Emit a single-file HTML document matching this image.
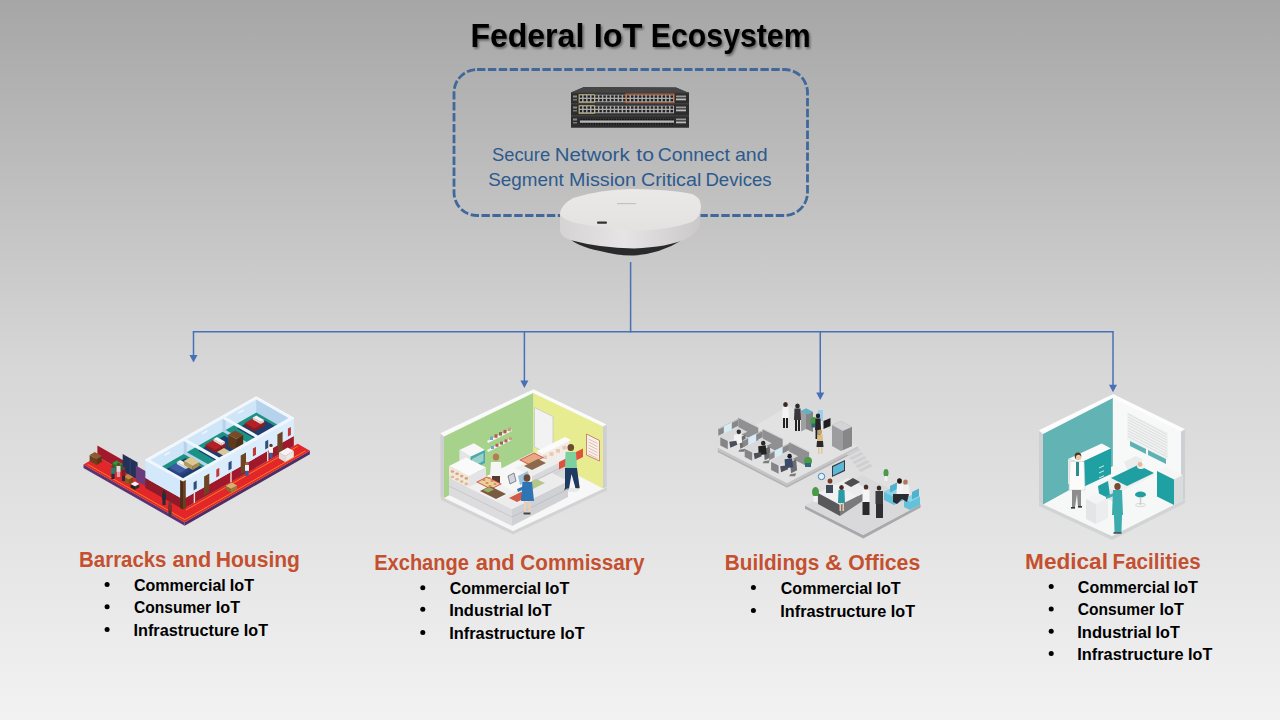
<!DOCTYPE html>
<html><head><meta charset="utf-8"><style>
html,body{margin:0;padding:0;width:1280px;height:720px;overflow:hidden;}
body{background:linear-gradient(to bottom,#a6a6a6 0%,#d6d6d6 50%,#f2f2f2 100%);font-family:"Liberation Sans",sans-serif;}
svg{position:absolute;left:0;top:0;}
</style></head><body>
<svg width="1280" height="720" viewBox="0 0 1280 720" font-family="Liberation Sans, sans-serif">
<defs>
<filter id="shadow" x="-10%" y="-30%" width="120%" height="160%"><feDropShadow dx="1.5" dy="1.8" stdDeviation="1.2" flood-color="#000" flood-opacity="0.45"/></filter>
</defs>
<rect x="454" y="69.5" width="353.5" height="146" rx="23" ry="23" fill="none" stroke="#41689a" stroke-width="2.8" stroke-dasharray="8.4 2.5"/>
<line x1="630.6" y1="262" x2="630.6" y2="332.5" stroke="#4670b8" stroke-width="1.5"/>
<line x1="192.75" y1="331.8" x2="1113.75" y2="331.8" stroke="#4670b8" stroke-width="1.5"/>
<line x1="193.5" y1="331.8" x2="193.5" y2="356.4" stroke="#4670b8" stroke-width="1.5"/><path d="M189.5,354.9 L197.5,354.9 L193.5,362.4 Z" fill="#4670b8"/><line x1="524.4" y1="331.8" x2="524.4" y2="382" stroke="#4670b8" stroke-width="1.5"/><path d="M520.4,380.5 L528.4,380.5 L524.4,388 Z" fill="#4670b8"/><line x1="820.25" y1="331.8" x2="820.25" y2="394" stroke="#4670b8" stroke-width="1.5"/><path d="M816.25,392.5 L824.25,392.5 L820.25,400 Z" fill="#4670b8"/><line x1="1113" y1="331.8" x2="1113" y2="386.2" stroke="#4670b8" stroke-width="1.5"/><path d="M1109,384.7 L1117,384.7 L1113,392.2 Z" fill="#4670b8"/>
<polygon points="571.0,92.5 584.0,87.0 676.0,87.5 689.0,93.0 689.0,127.5 571.0,127.5" fill="#3b3b3b" /><polygon points="571.0,92.5 584.0,87.0 676.0,87.5 689.0,93.0" fill="#454545" /><rect x="571.0" y="92.5" width="118.0" height="10.5" fill="#2d2d2d" /><rect x="571.0" y="92.5" width="118.0" height="0.8" fill="#4a4a4a" /><rect x="573.0" y="95.5" width="4.0" height="2.0" fill="#888" /><rect x="573.0" y="99.0" width="4.0" height="1.5" fill="#777" /><rect x="579.0" y="94.7" width="95.0" height="7.6" fill="#a9a9a9" /><rect x="579.6" y="95.4" width="2.5" height="2.3" fill="#202020" /><rect x="583.6" y="95.4" width="2.5" height="2.3" fill="#202020" /><rect x="587.5" y="95.4" width="2.5" height="2.3" fill="#202020" /><rect x="591.5" y="95.4" width="2.5" height="2.3" fill="#202020" /><rect x="595.4" y="95.4" width="2.5" height="2.3" fill="#202020" /><rect x="599.4" y="95.4" width="2.5" height="2.3" fill="#202020" /><rect x="603.3" y="95.4" width="2.5" height="2.3" fill="#202020" /><rect x="607.2" y="95.4" width="2.5" height="2.3" fill="#202020" /><rect x="611.2" y="95.4" width="2.5" height="2.3" fill="#202020" /><rect x="615.1" y="95.4" width="2.5" height="2.3" fill="#202020" /><rect x="619.1" y="95.4" width="2.5" height="2.3" fill="#202020" /><rect x="623.1" y="95.4" width="2.5" height="2.3" fill="#202020" /><rect x="627.0" y="95.4" width="2.5" height="2.3" fill="#202020" /><rect x="631.0" y="95.4" width="2.5" height="2.3" fill="#202020" /><rect x="634.9" y="95.4" width="2.5" height="2.3" fill="#202020" /><rect x="638.9" y="95.4" width="2.5" height="2.3" fill="#202020" /><rect x="642.8" y="95.4" width="2.5" height="2.3" fill="#202020" /><rect x="646.8" y="95.4" width="2.5" height="2.3" fill="#202020" /><rect x="650.7" y="95.4" width="2.5" height="2.3" fill="#202020" /><rect x="654.6" y="95.4" width="2.5" height="2.3" fill="#202020" /><rect x="658.6" y="95.4" width="2.5" height="2.3" fill="#202020" /><rect x="662.6" y="95.4" width="2.5" height="2.3" fill="#202020" /><rect x="666.5" y="95.4" width="2.5" height="2.3" fill="#202020" /><rect x="670.5" y="95.4" width="2.5" height="2.3" fill="#202020" /><rect x="579.6" y="99.0" width="2.5" height="2.3" fill="#202020" /><rect x="583.6" y="99.0" width="2.5" height="2.3" fill="#202020" /><rect x="587.5" y="99.0" width="2.5" height="2.3" fill="#202020" /><rect x="591.5" y="99.0" width="2.5" height="2.3" fill="#202020" /><rect x="595.4" y="99.0" width="2.5" height="2.3" fill="#202020" /><rect x="599.4" y="99.0" width="2.5" height="2.3" fill="#202020" /><rect x="603.3" y="99.0" width="2.5" height="2.3" fill="#202020" /><rect x="607.2" y="99.0" width="2.5" height="2.3" fill="#202020" /><rect x="611.2" y="99.0" width="2.5" height="2.3" fill="#202020" /><rect x="615.1" y="99.0" width="2.5" height="2.3" fill="#202020" /><rect x="619.1" y="99.0" width="2.5" height="2.3" fill="#202020" /><rect x="623.1" y="99.0" width="2.5" height="2.3" fill="#202020" /><rect x="627.0" y="99.0" width="2.5" height="2.3" fill="#202020" /><rect x="631.0" y="99.0" width="2.5" height="2.3" fill="#202020" /><rect x="634.9" y="99.0" width="2.5" height="2.3" fill="#202020" /><rect x="638.9" y="99.0" width="2.5" height="2.3" fill="#202020" /><rect x="642.8" y="99.0" width="2.5" height="2.3" fill="#202020" /><rect x="646.8" y="99.0" width="2.5" height="2.3" fill="#202020" /><rect x="650.7" y="99.0" width="2.5" height="2.3" fill="#202020" /><rect x="654.6" y="99.0" width="2.5" height="2.3" fill="#202020" /><rect x="658.6" y="99.0" width="2.5" height="2.3" fill="#202020" /><rect x="662.6" y="99.0" width="2.5" height="2.3" fill="#202020" /><rect x="666.5" y="99.0" width="2.5" height="2.3" fill="#202020" /><rect x="670.5" y="99.0" width="2.5" height="2.3" fill="#202020" /><rect x="579.0" y="94.7" width="15.5" height="7.6" fill="none" stroke="#c9c27a" stroke-width="0.7"/><rect x="626.0" y="94.1" width="48.0" height="8.8" fill="none" stroke="#c8683a" stroke-width="1.1"/><rect x="676.0" y="95.5" width="10.0" height="1.8" fill="#9a9a9a" /><rect x="676.0" y="98.5" width="10.0" height="1.8" fill="#bdbdbd" /><rect x="571.0" y="103.5" width="118.0" height="11.5" fill="#2d2d2d" /><rect x="571.0" y="103.5" width="118.0" height="0.8" fill="#4a4a4a" /><rect x="573.0" y="106.5" width="4.0" height="2.0" fill="#888" /><rect x="573.0" y="110.0" width="4.0" height="1.5" fill="#777" /><rect x="579.0" y="105.7" width="95.0" height="7.6" fill="#a9a9a9" /><rect x="579.6" y="106.4" width="2.5" height="2.3" fill="#202020" /><rect x="583.6" y="106.4" width="2.5" height="2.3" fill="#202020" /><rect x="587.5" y="106.4" width="2.5" height="2.3" fill="#202020" /><rect x="591.5" y="106.4" width="2.5" height="2.3" fill="#202020" /><rect x="595.4" y="106.4" width="2.5" height="2.3" fill="#202020" /><rect x="599.4" y="106.4" width="2.5" height="2.3" fill="#202020" /><rect x="603.3" y="106.4" width="2.5" height="2.3" fill="#202020" /><rect x="607.2" y="106.4" width="2.5" height="2.3" fill="#202020" /><rect x="611.2" y="106.4" width="2.5" height="2.3" fill="#202020" /><rect x="615.1" y="106.4" width="2.5" height="2.3" fill="#202020" /><rect x="619.1" y="106.4" width="2.5" height="2.3" fill="#202020" /><rect x="623.1" y="106.4" width="2.5" height="2.3" fill="#202020" /><rect x="627.0" y="106.4" width="2.5" height="2.3" fill="#202020" /><rect x="631.0" y="106.4" width="2.5" height="2.3" fill="#202020" /><rect x="634.9" y="106.4" width="2.5" height="2.3" fill="#202020" /><rect x="638.9" y="106.4" width="2.5" height="2.3" fill="#202020" /><rect x="642.8" y="106.4" width="2.5" height="2.3" fill="#202020" /><rect x="646.8" y="106.4" width="2.5" height="2.3" fill="#202020" /><rect x="650.7" y="106.4" width="2.5" height="2.3" fill="#202020" /><rect x="654.6" y="106.4" width="2.5" height="2.3" fill="#202020" /><rect x="658.6" y="106.4" width="2.5" height="2.3" fill="#202020" /><rect x="662.6" y="106.4" width="2.5" height="2.3" fill="#202020" /><rect x="666.5" y="106.4" width="2.5" height="2.3" fill="#202020" /><rect x="670.5" y="106.4" width="2.5" height="2.3" fill="#202020" /><rect x="579.6" y="110.0" width="2.5" height="2.3" fill="#202020" /><rect x="583.6" y="110.0" width="2.5" height="2.3" fill="#202020" /><rect x="587.5" y="110.0" width="2.5" height="2.3" fill="#202020" /><rect x="591.5" y="110.0" width="2.5" height="2.3" fill="#202020" /><rect x="595.4" y="110.0" width="2.5" height="2.3" fill="#202020" /><rect x="599.4" y="110.0" width="2.5" height="2.3" fill="#202020" /><rect x="603.3" y="110.0" width="2.5" height="2.3" fill="#202020" /><rect x="607.2" y="110.0" width="2.5" height="2.3" fill="#202020" /><rect x="611.2" y="110.0" width="2.5" height="2.3" fill="#202020" /><rect x="615.1" y="110.0" width="2.5" height="2.3" fill="#202020" /><rect x="619.1" y="110.0" width="2.5" height="2.3" fill="#202020" /><rect x="623.1" y="110.0" width="2.5" height="2.3" fill="#202020" /><rect x="627.0" y="110.0" width="2.5" height="2.3" fill="#202020" /><rect x="631.0" y="110.0" width="2.5" height="2.3" fill="#202020" /><rect x="634.9" y="110.0" width="2.5" height="2.3" fill="#202020" /><rect x="638.9" y="110.0" width="2.5" height="2.3" fill="#202020" /><rect x="642.8" y="110.0" width="2.5" height="2.3" fill="#202020" /><rect x="646.8" y="110.0" width="2.5" height="2.3" fill="#202020" /><rect x="650.7" y="110.0" width="2.5" height="2.3" fill="#202020" /><rect x="654.6" y="110.0" width="2.5" height="2.3" fill="#202020" /><rect x="658.6" y="110.0" width="2.5" height="2.3" fill="#202020" /><rect x="662.6" y="110.0" width="2.5" height="2.3" fill="#202020" /><rect x="666.5" y="110.0" width="2.5" height="2.3" fill="#202020" /><rect x="670.5" y="110.0" width="2.5" height="2.3" fill="#202020" /><rect x="579.0" y="105.7" width="15.5" height="7.6" fill="none" stroke="#c9c27a" stroke-width="0.7"/><rect x="676.0" y="106.5" width="10.0" height="1.8" fill="#9a9a9a" /><rect x="676.0" y="109.5" width="10.0" height="1.8" fill="#bdbdbd" /><rect x="571.0" y="115.5" width="118.0" height="12.0" fill="#2d2d2d" /><rect x="571.0" y="115.5" width="118.0" height="0.8" fill="#4a4a4a" /><rect x="573.0" y="118.5" width="4.0" height="2.0" fill="#888" /><rect x="573.0" y="122.0" width="4.0" height="1.5" fill="#777" /><rect x="580.0" y="118.0" width="94.0" height="7.0" fill="#3a3a3a" /><rect x="580.0" y="120.5" width="94.0" height="2.2" fill="#b8b8b8" /><rect x="580.5" y="118.5" width="1.6" height="1.6" fill="#151515" /><rect x="580.5" y="123.1" width="1.6" height="1.6" fill="#151515" /><rect x="583.1" y="118.5" width="1.6" height="1.6" fill="#151515" /><rect x="583.1" y="123.1" width="1.6" height="1.6" fill="#151515" /><rect x="585.7" y="118.5" width="1.6" height="1.6" fill="#151515" /><rect x="585.7" y="123.1" width="1.6" height="1.6" fill="#151515" /><rect x="588.3" y="118.5" width="1.6" height="1.6" fill="#151515" /><rect x="588.3" y="123.1" width="1.6" height="1.6" fill="#151515" /><rect x="590.9" y="118.5" width="1.6" height="1.6" fill="#151515" /><rect x="590.9" y="123.1" width="1.6" height="1.6" fill="#151515" /><rect x="593.5" y="118.5" width="1.6" height="1.6" fill="#151515" /><rect x="593.5" y="123.1" width="1.6" height="1.6" fill="#151515" /><rect x="596.1" y="118.5" width="1.6" height="1.6" fill="#151515" /><rect x="596.1" y="123.1" width="1.6" height="1.6" fill="#151515" /><rect x="598.7" y="118.5" width="1.6" height="1.6" fill="#151515" /><rect x="598.7" y="123.1" width="1.6" height="1.6" fill="#151515" /><rect x="601.3" y="118.5" width="1.6" height="1.6" fill="#151515" /><rect x="601.3" y="123.1" width="1.6" height="1.6" fill="#151515" /><rect x="603.9" y="118.5" width="1.6" height="1.6" fill="#151515" /><rect x="603.9" y="123.1" width="1.6" height="1.6" fill="#151515" /><rect x="606.5" y="118.5" width="1.6" height="1.6" fill="#151515" /><rect x="606.5" y="123.1" width="1.6" height="1.6" fill="#151515" /><rect x="609.1" y="118.5" width="1.6" height="1.6" fill="#151515" /><rect x="609.1" y="123.1" width="1.6" height="1.6" fill="#151515" /><rect x="611.7" y="118.5" width="1.6" height="1.6" fill="#151515" /><rect x="611.7" y="123.1" width="1.6" height="1.6" fill="#151515" /><rect x="614.3" y="118.5" width="1.6" height="1.6" fill="#151515" /><rect x="614.3" y="123.1" width="1.6" height="1.6" fill="#151515" /><rect x="616.9" y="118.5" width="1.6" height="1.6" fill="#151515" /><rect x="616.9" y="123.1" width="1.6" height="1.6" fill="#151515" /><rect x="619.5" y="118.5" width="1.6" height="1.6" fill="#151515" /><rect x="619.5" y="123.1" width="1.6" height="1.6" fill="#151515" /><rect x="622.1" y="118.5" width="1.6" height="1.6" fill="#151515" /><rect x="622.1" y="123.1" width="1.6" height="1.6" fill="#151515" /><rect x="624.7" y="118.5" width="1.6" height="1.6" fill="#151515" /><rect x="624.7" y="123.1" width="1.6" height="1.6" fill="#151515" /><rect x="627.3" y="118.5" width="1.6" height="1.6" fill="#151515" /><rect x="627.3" y="123.1" width="1.6" height="1.6" fill="#151515" /><rect x="629.9" y="118.5" width="1.6" height="1.6" fill="#151515" /><rect x="629.9" y="123.1" width="1.6" height="1.6" fill="#151515" /><rect x="632.5" y="118.5" width="1.6" height="1.6" fill="#151515" /><rect x="632.5" y="123.1" width="1.6" height="1.6" fill="#151515" /><rect x="635.1" y="118.5" width="1.6" height="1.6" fill="#151515" /><rect x="635.1" y="123.1" width="1.6" height="1.6" fill="#151515" /><rect x="637.7" y="118.5" width="1.6" height="1.6" fill="#151515" /><rect x="637.7" y="123.1" width="1.6" height="1.6" fill="#151515" /><rect x="640.3" y="118.5" width="1.6" height="1.6" fill="#151515" /><rect x="640.3" y="123.1" width="1.6" height="1.6" fill="#151515" /><rect x="642.9" y="118.5" width="1.6" height="1.6" fill="#151515" /><rect x="642.9" y="123.1" width="1.6" height="1.6" fill="#151515" /><rect x="645.5" y="118.5" width="1.6" height="1.6" fill="#151515" /><rect x="645.5" y="123.1" width="1.6" height="1.6" fill="#151515" /><rect x="648.1" y="118.5" width="1.6" height="1.6" fill="#151515" /><rect x="648.1" y="123.1" width="1.6" height="1.6" fill="#151515" /><rect x="650.7" y="118.5" width="1.6" height="1.6" fill="#151515" /><rect x="650.7" y="123.1" width="1.6" height="1.6" fill="#151515" /><rect x="653.3" y="118.5" width="1.6" height="1.6" fill="#151515" /><rect x="653.3" y="123.1" width="1.6" height="1.6" fill="#151515" /><rect x="655.9" y="118.5" width="1.6" height="1.6" fill="#151515" /><rect x="655.9" y="123.1" width="1.6" height="1.6" fill="#151515" /><rect x="658.5" y="118.5" width="1.6" height="1.6" fill="#151515" /><rect x="658.5" y="123.1" width="1.6" height="1.6" fill="#151515" /><rect x="661.1" y="118.5" width="1.6" height="1.6" fill="#151515" /><rect x="661.1" y="123.1" width="1.6" height="1.6" fill="#151515" /><rect x="663.7" y="118.5" width="1.6" height="1.6" fill="#151515" /><rect x="663.7" y="123.1" width="1.6" height="1.6" fill="#151515" /><rect x="666.3" y="118.5" width="1.6" height="1.6" fill="#151515" /><rect x="666.3" y="123.1" width="1.6" height="1.6" fill="#151515" /><rect x="668.9" y="118.5" width="1.6" height="1.6" fill="#151515" /><rect x="668.9" y="123.1" width="1.6" height="1.6" fill="#151515" /><rect x="671.5" y="118.5" width="1.6" height="1.6" fill="#151515" /><rect x="671.5" y="123.1" width="1.6" height="1.6" fill="#151515" /><rect x="676.0" y="118.5" width="10.0" height="1.8" fill="#9a9a9a" /><rect x="676.0" y="121.5" width="10.0" height="1.8" fill="#bdbdbd" /><defs><linearGradient id="apside" x1="0" y1="0" x2="1" y2="0"><stop offset="0" stop-color="#d5d3d3"/><stop offset="0.45" stop-color="#e6e4e4"/><stop offset="1" stop-color="#cac8c8"/></linearGradient><linearGradient id="aptop" x1="0" y1="0" x2="0" y2="1"><stop offset="0" stop-color="#ebe8e8"/><stop offset="1" stop-color="#e4e1e1"/></linearGradient></defs><path d="M567,236 Q575,246 600,251 Q620,256 634,255.5 Q660,254 684,239 Z" fill="#2a2a2c"/><path d="M560,213 L560,231 Q561,237 570,240 Q600,248 634,248.5 Q668,247 686,239 Q699,233 700,224 L701,207 Z" fill="url(#apside)"/><path d="M560,213 Q561,205 573,198 Q600,189.5 632,189 Q672,189.5 692,194 Q700.5,197 701,206 Q701,217 692,222 Q668,230 640,230.5 Q600,229 572,222 Q560,218 560,213 Z" fill="url(#aptop)"/><rect x="597.0" y="221.5" width="10.0" height="2.2" fill="#333" rx="1"/><rect x="617.0" y="203.0" width="19.0" height="1.2" fill="#c4c1c1" /><polygon points="441.0,496.5 513.0,531.0 607.0,487.0 607.0,490.5 513.0,534.5 441.0,500.0" fill="#d3d3d5" /><polygon points="441.0,496.5 513.0,531.0 607.0,487.0 533.3,452.0" fill="#f7f7f7" /><polygon points="440.4,434.5 444.0,436.0 444.0,498.0 440.4,496.5" fill="#cfcfd3" /><polygon points="603.0,426.0 606.7,424.4 606.7,487.0 603.0,488.5" fill="#cfcfd3" /><polygon points="444.0,436.0 533.3,389.3 533.3,452.0 444.0,498.0" fill="#a6d28b" /><polygon points="533.3,389.3 603.0,426.0 603.0,488.5 533.3,452.0" fill="#e6ec8f" /><polygon points="440.4,433.3 533.3,389.3 606.7,424.4 603.0,426.5 533.3,393.0 444.0,436.5" fill="#fbfbfb" /><polygon points="534.5,407.5 553.0,416.5 553.0,456.0 534.5,447.0" fill="#f2f2f2" stroke="#c9c9c9" stroke-width="0.8"/><polygon points="586.5,434.0 599.5,440.5 599.5,461.0 586.5,455.0" fill="#f6f0ea" stroke="#c25b4a" stroke-width="0.7"/><line x1="588.5" y1="439.0" x2="597.5" y2="443.5" stroke="#d09080" stroke-width="0.5"/><line x1="588.5" y1="442.0" x2="597.5" y2="446.5" stroke="#d09080" stroke-width="0.5"/><line x1="588.5" y1="445.0" x2="597.5" y2="449.5" stroke="#d09080" stroke-width="0.5"/><line x1="588.5" y1="448.0" x2="597.5" y2="452.5" stroke="#d09080" stroke-width="0.5"/><line x1="588.5" y1="451.0" x2="597.5" y2="455.5" stroke="#d09080" stroke-width="0.5"/><line x1="588.5" y1="454.0" x2="597.5" y2="458.5" stroke="#d09080" stroke-width="0.5"/><polygon points="487.0,450.0 511.0,438.0 512.0,440.0 488.0,452.0" fill="#f4f4f4" /><polygon points="487.0,441.0 511.0,429.0 512.0,431.0 488.0,443.0" fill="#f4f4f4" /><rect x="490.0" y="436.5" width="3.0" height="3.5" fill="#7aa6c8" /><rect x="491.0" y="446.0" width="3.0" height="3.0" fill="#7aa6c8" /><rect x="494.5" y="434.3" width="3.0" height="3.5" fill="#c0584a" /><rect x="495.5" y="443.8" width="3.0" height="3.0" fill="#c0584a" /><rect x="499.0" y="432.1" width="3.0" height="3.5" fill="#8a6a5a" /><rect x="500.0" y="441.6" width="3.0" height="3.0" fill="#8a6a5a" /><rect x="503.5" y="429.9" width="3.0" height="3.5" fill="#c0584a" /><rect x="504.5" y="439.4" width="3.0" height="3.0" fill="#c0584a" /><rect x="508.0" y="427.7" width="3.0" height="3.5" fill="#c8a080" /><rect x="509.0" y="437.2" width="3.0" height="3.0" fill="#c8a080" /><polygon points="532.0,476.0 574.0,455.0 574.0,474.0 532.0,495.0" fill="#d9d9dc" /><line x1="532" y1="482" x2="574" y2="461" stroke="#bcbcc0" stroke-width="0.8"/><line x1="532" y1="485" x2="574" y2="464" stroke="#c6c6ca" stroke-width="0.6"/><polygon points="515.0,468.0 557.0,447.0 574.0,455.0 532.0,476.0" fill="#eeeeef" /><polygon points="541.0,453.0 569.0,439.0 569.0,450.0 541.0,464.0" fill="#f4ece4" /><rect x="543.0" y="455.5" width="4.0" height="3.5" fill="#e6c8b4" /><rect x="549.5" y="452.3" width="4.0" height="3.5" fill="#e6c8b4" /><rect x="556.0" y="449.1" width="4.0" height="3.5" fill="#e6c8b4" /><rect x="562.5" y="445.9" width="4.0" height="3.5" fill="#e6c8b4" /><polygon points="537.0,451.0 565.0,437.0 571.0,440.0 543.0,454.0" fill="#fbfbfb" /><polygon points="537.0,451.0 543.0,454.0 543.0,465.0 537.0,462.0" fill="#f0f0f0" /><polygon points="519.0,460.0 534.0,452.5 544.0,457.5 529.0,465.0" fill="#cf5a45" /><polygon points="521.0,460.0 534.0,453.5 542.0,457.5 529.0,464.0" fill="#e8a882" /><polygon points="524.0,466.0 538.0,459.0 546.0,463.0 532.0,470.0" fill="#8a6a4a" /><ellipse cx="496" cy="457" rx="3.2" ry="3.6" fill="#b77a52"/><polygon points="491.0,462.0 501.0,462.0 502.0,476.0 490.0,476.0" fill="#f6f6f6" /><rect x="492.0" y="476.0" width="8.0" height="7.0" fill="#5a3a30" /><polygon points="459.4,450.0 473.9,443.3 485.0,450.0 470.6,456.7" fill="#f7f7f7" /><polygon points="459.4,450.0 470.6,456.7 470.6,470.0 459.4,463.0" fill="#e5e5e7" /><polygon points="470.6,456.7 485.0,450.0 485.0,463.0 470.6,470.0" fill="#4aa8b0" /><polygon points="472.0,459.0 483.5,453.0 483.5,461.0 472.0,467.0" fill="#9ad0c8" /><polygon points="449.0,478.0 512.0,509.0 512.0,526.0 449.0,495.0" fill="#dcdcdf" /><line x1="449" y1="486" x2="512" y2="517" stroke="#c3c3c7" stroke-width="0.8"/><polygon points="449.0,478.0 468.0,468.5 531.0,499.5 512.0,509.0" fill="#f1f1f2" /><polygon points="512.0,509.0 568.0,481.0 568.0,497.0 512.0,526.0" fill="#d0d1d4" /><line x1="512" y1="517" x2="568" y2="489" stroke="#babbc0" stroke-width="0.8"/><polygon points="512.0,509.0 568.0,481.0 552.0,473.0 496.0,501.0" fill="#ececed" /><polygon points="449.0,466.0 466.0,457.5 486.0,467.5 469.0,476.0" fill="#fafafa" /><polygon points="449.0,466.0 469.0,476.0 469.0,487.0 449.0,477.0" fill="#f1e6dc" /><polygon points="469.0,476.0 486.0,467.5 486.0,478.5 469.0,487.0" fill="#e4e4e6" /><ellipse cx="452.5" cy="471.5" rx="1.8" ry="1.3" fill="#d9a37a"/><ellipse cx="452.5" cy="477.0" rx="1.8" ry="1.3" fill="#e0b890"/><ellipse cx="457.1" cy="473.8" rx="1.8" ry="1.3" fill="#d9a37a"/><ellipse cx="457.1" cy="479.3" rx="1.8" ry="1.3" fill="#e0b890"/><ellipse cx="461.7" cy="476.1" rx="1.8" ry="1.3" fill="#d9a37a"/><ellipse cx="461.7" cy="481.6" rx="1.8" ry="1.3" fill="#e0b890"/><ellipse cx="466.3" cy="478.4" rx="1.8" ry="1.3" fill="#d9a37a"/><ellipse cx="466.3" cy="483.9" rx="1.8" ry="1.3" fill="#e0b890"/><polygon points="476.0,482.0 487.0,476.5 502.0,484.0 491.0,489.5" fill="#d25a48" /><polygon points="478.0,482.0 487.0,477.5 500.0,484.0 491.0,488.5" fill="#ead0a0" /><polygon points="480.0,491.0 490.0,486.0 506.0,494.0 496.0,499.0" fill="#7a5a40" /><ellipse cx="484" cy="480" rx="1.6" ry="1" fill="#d98a50"/><ellipse cx="489" cy="478" rx="1.6" ry="1" fill="#d98a50"/><ellipse cx="487" cy="483" rx="1.6" ry="1" fill="#d98a50"/><ellipse cx="492" cy="481" rx="1.6" ry="1" fill="#d98a50"/><ellipse cx="495" cy="484" rx="1.6" ry="1" fill="#d98a50"/><ellipse cx="490" cy="486" rx="1.6" ry="1" fill="#d98a50"/><polygon points="483.0,490.0 489.0,487.0 494.0,489.5 488.0,492.5" fill="#9ab060" /><polygon points="509.0,498.0 521.0,492.0 529.0,496.0 517.0,502.0" fill="#d25a48" /><polygon points="522.0,486.0 536.0,479.0 545.0,483.0 531.0,490.0" fill="#b5c68a" /><polygon points="508.0,476.0 514.0,473.0 516.0,481.0 510.0,484.0" fill="#cfd6e0" stroke="#444" stroke-width="0.6"/><polygon points="518.0,476.0 528.0,471.0 530.0,480.0 520.0,485.0" fill="#9cc3dd" /><ellipse cx="527" cy="478" rx="3.4" ry="3.8" fill="#6b4a35"/><polygon points="522.5,482.0 532.0,482.0 534.0,501.0 521.0,501.0" fill="#2f74b4" /><polygon points="517.0,489.0 524.0,486.0 524.0,489.0 518.0,492.0" fill="#2f74b4" /><rect x="524.0" y="501.0" width="2.2" height="12.0" fill="#ecd0b8" /><rect x="528.5" y="501.0" width="2.2" height="12.0" fill="#ecd0b8" /><ellipse cx="527.5" cy="514.5" rx="5" ry="1.8" fill="#d8d8d8"/><rect x="523.5" y="512.5" width="7.0" height="2.0" fill="#444" /><polygon points="559.0,462.0 566.0,458.5 566.0,466.0 559.0,469.5" fill="#e0503a" /><polygon points="575.0,452.5 583.0,448.5 583.0,457.0 575.0,461.0" fill="#e0503a" /><ellipse cx="570.8" cy="447.5" rx="3.3" ry="3.6" fill="#6b4a35"/><polygon points="565.5,452.0 576.0,452.0 577.0,468.0 565.0,468.0" fill="#7fd0a0" /><polygon points="565.0,468.0 577.0,468.0 579.5,487.0 575.5,488.0 571.5,474.0 569.0,489.0 565.0,489.0" fill="#1f3a60" /><rect x="564.5" y="488.5" width="4.0" height="1.8" fill="#333" /><rect x="575.5" y="486.5" width="4.0" height="1.8" fill="#333" /><ellipse cx="572" cy="490" rx="7" ry="2" fill="#e2e2e2" opacity="0.7"/><polygon points="1039.0,502.4 1111.9,536.0 1185.1,499.2 1185.1,503.0 1111.9,540.0 1039.0,506.0" fill="#d2d3d5" /><polygon points="1039.0,502.4 1111.9,536.0 1185.1,499.2 1112.9,466.0" fill="#f6f7f7" /><polygon points="1039.0,431.5 1043.0,433.5 1043.0,504.5 1039.0,502.4" fill="#cdd0d3" /><polygon points="1181.0,431.0 1185.1,429.2 1185.1,499.2 1181.0,501.0" fill="#cdd0d3" /><polygon points="1043.0,433.5 1112.9,394.0 1112.9,466.0 1043.0,504.5" fill="#62b3b4" /><polygon points="1112.9,394.0 1181.0,431.0 1181.0,501.0 1112.9,466.0" fill="#f7f8f8" /><polygon points="1039.0,430.2 1112.9,394.0 1185.1,429.2 1181.0,431.5 1112.9,398.0 1043.0,434.0" fill="#fdfdfd" /><polygon points="1127.0,412.0 1168.0,433.0 1168.0,460.0 1127.0,440.0" fill="#f0f1f1" /><line x1="1128" y1="414.0" x2="1167" y2="434.5" stroke="#c9cccd" stroke-width="0.5"/><line x1="1128" y1="416.8" x2="1167" y2="437.3" stroke="#c9cccd" stroke-width="0.5"/><line x1="1128" y1="419.6" x2="1167" y2="440.1" stroke="#c9cccd" stroke-width="0.5"/><line x1="1128" y1="422.4" x2="1167" y2="442.9" stroke="#c9cccd" stroke-width="0.5"/><line x1="1128" y1="425.2" x2="1167" y2="445.7" stroke="#c9cccd" stroke-width="0.5"/><line x1="1128" y1="428.0" x2="1167" y2="448.5" stroke="#c9cccd" stroke-width="0.5"/><line x1="1128" y1="430.8" x2="1167" y2="451.3" stroke="#c9cccd" stroke-width="0.5"/><line x1="1128" y1="433.6" x2="1167" y2="454.1" stroke="#c9cccd" stroke-width="0.5"/><line x1="1128" y1="436.4" x2="1167" y2="456.9" stroke="#c9cccd" stroke-width="0.5"/><polygon points="1130.0,441.0 1146.0,449.0 1146.0,454.0 1130.0,446.0" fill="#5fb2b3" /><polygon points="1148.0,450.0 1166.0,459.0 1166.0,464.0 1148.0,455.0" fill="#5fb2b3" /><polygon points="1068.0,459.0 1101.7,443.5 1111.0,448.5 1081.0,462.5" fill="#fafafa" /><polygon points="1068.0,459.0 1081.0,462.5 1081.0,490.0 1068.0,484.0" fill="#e6e8e9" /><polygon points="1081.0,462.5 1111.0,448.5 1111.0,474.0 1081.0,488.0" fill="#1fa0a2" /><line x1="1099" y1="468.0" x2="1104" y2="465.7" stroke="#e8f4f4" stroke-width="0.9"/><line x1="1099" y1="473.0" x2="1104" y2="470.7" stroke="#e8f4f4" stroke-width="0.9"/><line x1="1099" y1="478.0" x2="1104" y2="475.7" stroke="#e8f4f4" stroke-width="0.9"/><line x1="1099" y1="483.0" x2="1104" y2="480.7" stroke="#e8f4f4" stroke-width="0.9"/><polygon points="1157.0,471.0 1166.0,467.0 1183.0,475.0 1174.0,479.5" fill="#f5f5f5" /><polygon points="1157.0,471.0 1174.0,479.5 1174.0,505.0 1157.0,496.5" fill="#1fa0a2" /><polygon points="1174.0,479.5 1183.0,475.0 1183.0,500.5 1174.0,505.0" fill="#d9dcdd" /><polygon points="1124.0,462.0 1136.0,456.0 1142.0,459.0 1142.0,470.0 1130.0,476.0" fill="#e9ebec" /><polygon points="1100.0,484.0 1137.0,466.0 1155.0,475.0 1118.0,493.0" fill="#eef0f0" /><polygon points="1100.0,484.0 1118.0,493.0 1118.0,504.0 1100.0,495.0" fill="#dfe1e2" /><polygon points="1111.0,478.0 1138.0,465.0 1154.0,473.0 1127.0,486.0" fill="#1f9fa1" /><polygon points="1098.0,486.0 1108.0,481.0 1110.0,496.0 1100.0,501.0" fill="#1f9fa1" /><ellipse cx="1141" cy="466" rx="4" ry="3" fill="#f1f1f1"/><ellipse cx="1140" cy="464.5" rx="2.4" ry="2.4" fill="#e8b896"/><ellipse cx="1140.5" cy="494.5" rx="5.5" ry="3" fill="#1f9fa1"/><rect x="1139.8" y="497.0" width="1.4" height="8.0" fill="#c9cbcc" /><ellipse cx="1140.5" cy="505" rx="5" ry="1.6" fill="none" stroke="#c9cbcc" stroke-width="0.7"/><polygon points="1086.0,499.0 1098.0,493.0 1108.0,498.0 1096.0,504.0" fill="#f4f4f4" /><polygon points="1086.0,499.0 1096.0,504.0 1096.0,524.0 1086.0,519.0" fill="#e4e5e6" /><polygon points="1096.0,504.0 1108.0,498.0 1108.0,518.0 1096.0,524.0" fill="#ededee" /><ellipse cx="1078" cy="456" rx="3.3" ry="3.6" fill="#4a3426"/><ellipse cx="1078.5" cy="457.5" rx="2.6" ry="2.8" fill="#f0c7a5"/><polygon points="1070.0,461.5 1084.0,461.5 1085.0,490.0 1069.0,490.0" fill="#fbfbfb" stroke="#cfd2d4" stroke-width="0.6"/><polygon points="1076.0,462.0 1079.0,462.0 1079.0,476.0 1076.0,476.0" fill="#2a8f90" /><polygon points="1072.0,490.0 1081.0,490.0 1081.0,507.0 1078.0,507.0 1077.0,494.0 1075.0,507.0 1072.0,507.0" fill="#8c8c8c" /><rect x="1071.0" y="507.0" width="4.0" height="1.6" fill="#333" /><rect x="1078.0" y="506.0" width="4.0" height="1.6" fill="#333" /><ellipse cx="1117.5" cy="486.5" rx="3.2" ry="3.5" fill="#7a4a30"/><polygon points="1113.0,490.0 1122.0,490.0 1123.0,515.0 1112.0,515.0" fill="#3aacae" /><polygon points="1106.0,496.0 1114.0,493.0 1114.0,496.0 1106.0,499.0" fill="#3aacae" /><polygon points="1114.0,515.0 1122.0,515.0 1121.5,532.0 1114.5,532.0" fill="#3aacae" /><rect x="1113.5" y="532.0" width="8.0" height="1.8" fill="#555" /><polygon points="184.7,522.2 309.9,450.8 309.9,454.3 184.7,525.7" fill="#4f2c63" /><polygon points="184.7,522.2 83.5,464.5 83.5,468.0 184.7,525.7" fill="#5b3170" /><polygon points="184.7,522.2 309.9,450.8 297.7,443.8 186.4,507.3 97.4,456.5 83.5,464.5" fill="#e3262a" /><line x1="184.7" y1="519.7" x2="305.6" y2="450.8" stroke="#f7931e" stroke-width="0.8"/><line x1="184.7" y1="519.7" x2="87.4" y2="464.2" stroke="#f7931e" stroke-width="0.8"/><line x1="186.0" y1="510.0" x2="297.7" y2="446.3" stroke="#f7931e" stroke-width="0.8"/><polygon points="148.9,485.9 97.4,456.5 97.4,445.5 148.9,474.9" fill="#a3192c" /><polygon points="137.6,479.4 122.7,470.9 122.7,453.9 137.6,462.4" fill="#233258" /><line x1="130.2" y1="475.2" x2="130.2" y2="458.2" stroke="#3a4a7a" stroke-width="0.8"/><polygon points="147.2,486.9 135.8,480.4 135.8,465.4 147.2,471.9" fill="#6b3b7b" /><polygon points="96.6,465.0 89.6,461.0 89.6,455.0 96.6,459.0" fill="#6a4020" /><polygon points="96.6,465.0 101.8,462.0 101.8,456.0 96.6,459.0" fill="#5a3518" /><polygon points="96.6,459.0 101.8,456.0 94.8,452.0 89.6,455.0" fill="#8a5a30" /><polygon points="150.7,472.9 183.8,453.9 183.8,440.9 150.7,459.9" fill="#cfe5f8" /><polygon points="216.1,472.4 183.8,453.9 183.8,440.9 216.1,459.4" fill="#b6d3ee" /><polygon points="183.0,491.3 216.1,472.4 183.8,453.9 150.7,472.9" fill="#1a9284" /><polygon points="184.7,484.3 208.3,470.9 185.6,457.9 162.0,471.4" fill="#1f3c6e" /><polygon points="164.6,455.9 169.9,452.9 169.9,451.4 164.6,454.4" fill="#f4f9ff" /><polygon points="186.9,452.2 222.7,431.8 222.7,418.8 186.9,439.2" fill="#cfe5f8" /><polygon points="255.0,450.2 222.7,431.8 222.7,418.8 255.0,437.2" fill="#b6d3ee" /><polygon points="219.2,470.6 255.0,450.2 222.7,431.8 186.9,452.2" fill="#1a9284" /><polygon points="220.9,463.7 247.1,448.7 224.4,435.8 198.2,450.7" fill="#1f3c6e" /><polygon points="202.2,434.5 207.4,431.5 207.4,430.0 202.2,433.0" fill="#f4f9ff" /><polygon points="225.7,430.1 256.3,412.6 256.3,399.6 225.7,417.1" fill="#cfe5f8" /><polygon points="288.6,431.1 256.3,412.6 256.3,399.6 288.6,418.1" fill="#b6d3ee" /><polygon points="258.0,448.5 288.6,431.1 256.3,412.6 225.7,430.1" fill="#1a9284" /><polygon points="259.8,441.5 280.7,429.6 258.0,416.6 237.1,428.6" fill="#1f3c6e" /><polygon points="238.4,413.8 243.6,410.9 243.6,409.4 238.4,412.3" fill="#f4f9ff" /><polygon points="179.5,476.3 169.0,470.4 169.0,467.4 179.5,473.3" fill="#2a4580" /><polygon points="179.5,476.3 189.9,470.4 189.9,467.4 179.5,473.3" fill="#2a4580" /><polygon points="179.5,473.3 189.9,467.4 179.5,461.4 169.0,467.4" fill="#3c5ea6" /><polygon points="185.6,468.9 176.8,463.9 176.8,461.9 185.6,466.9" fill="#dcdcdc" /><polygon points="185.6,468.9 189.1,466.9 189.1,464.9 185.6,466.9" fill="#dcdcdc" /><polygon points="185.6,466.9 189.1,464.9 180.3,459.9 176.8,461.9" fill="#f2f2f2" /><polygon points="192.6,469.9 183.8,464.9 183.8,460.9 192.6,465.9" fill="#b89a5a" /><polygon points="192.6,469.9 199.5,465.9 199.5,461.9 192.6,465.9" fill="#a88a4a" /><polygon points="192.6,465.9 199.5,461.9 190.8,456.9 183.8,460.9" fill="#dcc88e" /><polygon points="223.1,455.4 230.1,451.5 223.1,447.5 216.1,451.5" fill="#d8c79a" /><polygon points="215.2,453.0 205.6,447.5 205.6,444.5 215.2,450.0" fill="#8f1a1e" /><polygon points="215.2,453.0 225.7,447.0 225.7,444.0 215.2,450.0" fill="#8f1a1e" /><polygon points="215.2,450.0 225.7,444.0 216.1,438.5 205.6,444.5" fill="#b52025" /><polygon points="221.4,445.5 213.5,441.0 213.5,439.0 221.4,443.5" fill="#dcdcdc" /><polygon points="221.4,445.5 224.8,443.5 224.8,441.5 221.4,443.5" fill="#dcdcdc" /><polygon points="221.4,443.5 224.8,441.5 217.0,437.0 213.5,439.0" fill="#f3f3f3" /><polygon points="236.2,451.0 228.3,446.5 228.3,434.5 236.2,439.0" fill="#5e3a1c" /><polygon points="236.2,451.0 243.2,447.0 243.2,435.0 236.2,439.0" fill="#4e2e14" /><polygon points="236.2,439.0 243.2,435.0 235.3,430.5 228.3,434.5" fill="#7a4a28" /><polygon points="254.5,431.5 244.9,426.1 244.9,423.1 254.5,428.5" fill="#8f1a1e" /><polygon points="254.5,431.5 265.0,425.6 265.0,422.6 254.5,428.5" fill="#8f1a1e" /><polygon points="254.5,428.5 265.0,422.6 255.4,417.1 244.9,423.1" fill="#b52025" /><polygon points="260.6,424.1 252.8,419.6 252.8,417.6 260.6,422.1" fill="#dcdcdc" /><polygon points="260.6,424.1 264.1,422.1 264.1,420.1 260.6,422.1" fill="#dcdcdc" /><polygon points="260.6,422.1 264.1,420.1 256.3,415.6 252.8,417.6" fill="#f3f3f3" /><polygon points="183.0,509.3 145.4,487.9 145.4,477.9 183.0,499.3" fill="#8f1a2a" /><polygon points="183.0,499.3 145.4,477.9 145.4,459.9 183.0,481.3" fill="#d3e8fb" /><polygon points="183.0,509.3 293.8,446.1 293.8,436.1 183.0,499.3" fill="#a0182b" /><polygon points="183.0,499.3 293.8,436.1 293.8,418.1 183.0,481.3" fill="#dbedfc" /><path d="M183.0,481.3 L293.8,418.1 L256.3,396.7 L145.4,459.9 Z M183.0,478.3 L216.1,459.4 L183.8,440.9 L150.7,459.9 Z M219.2,457.6 L255.0,437.2 L222.7,418.8 L186.9,439.2 Z M258.0,435.5 L288.6,418.1 L256.3,399.6 L225.7,417.1 Z" fill="#eef6fe" fill-rule="evenodd"/><line x1="183.0" y1="481.3" x2="293.8" y2="418.1" stroke="#f7fbff" stroke-width="1.0"/><line x1="183.0" y1="481.3" x2="145.4" y2="459.9" stroke="#f7fbff" stroke-width="1.0"/><line x1="145.4" y1="459.9" x2="256.3" y2="396.7" stroke="#f7fbff" stroke-width="1.0"/><line x1="293.8" y1="418.1" x2="256.3" y2="396.7" stroke="#f7fbff" stroke-width="1.0"/><polygon points="204.1,495.4 209.3,492.4 209.3,473.4 204.1,476.4" fill="#6e4424" /><polygon points="240.7,474.5 246.0,471.5 246.0,452.5 240.7,455.5" fill="#6e4424" /><polygon points="277.4,453.6 282.6,450.6 282.6,431.6 277.4,434.6" fill="#6e4424" /><polygon points="193.6,490.4 196.7,488.6 196.7,480.6 193.6,482.4" fill="#2d4f7a" /><polygon points="216.3,477.4 219.3,475.7 219.3,467.7 216.3,469.4" fill="#c03a3a" /><polygon points="228.5,470.5 231.6,468.7 231.6,460.7 228.5,462.5" fill="#2d4f7a" /><polygon points="252.9,456.5 256.0,454.8 256.0,446.8 252.9,448.5" fill="#c03a3a" /><polygon points="265.2,449.6 268.2,447.8 268.2,439.8 265.2,441.6" fill="#2d4f7a" /><polygon points="287.9,436.6 290.9,434.9 290.9,426.9 287.9,428.6" fill="#c03a3a" /><polygon points="193.7,503.4 195.1,502.6 195.1,492.6 193.7,493.4" fill="#f0e2c8" /><polygon points="230.3,482.5 231.7,481.7 231.7,471.7 230.3,472.5" fill="#f0e2c8" /><polygon points="267.0,461.6 268.4,460.8 268.4,450.8 267.0,451.6" fill="#f0e2c8" /><polygon points="183.0,509.6 185.8,507.9 185.8,479.9 183.0,481.6" fill="#6b3f1f" /><polygon points="183.0,509.6 180.1,507.9 180.1,479.9 183.0,481.6" fill="#4f2e15" /><polygon points="118.4,472.4 112.3,468.9 112.3,462.9 118.4,466.4" fill="#1f7a2a" /><polygon points="118.4,472.4 122.7,469.9 122.7,463.9 118.4,466.4" fill="#1f6a2a" /><polygon points="118.4,466.4 122.7,463.9 116.6,460.5 112.3,462.9" fill="#2a9a3a" /><polygon points="128.8,484.4 123.6,481.4 123.6,476.4 128.8,479.4" fill="#8a5a20" /><polygon points="128.8,484.4 133.2,481.9 133.2,476.9 128.8,479.4" fill="#7a4a18" /><polygon points="128.8,479.4 133.2,476.9 128.0,473.9 123.6,476.4" fill="#c08a40" /><rect x="111.4" y="473.1" width="3.2" height="5.9" fill="#2a2a3a" /><rect x="111.0" y="467.9" width="4.0" height="5.9" fill="#2a7a7a" /><circle cx="113.0" cy="466.4" r="1.7" fill="#6a4030"/><rect x="116.9" y="471.1" width="3.2" height="5.9" fill="#d0a0b0" /><rect x="116.5" y="465.9" width="4.0" height="5.9" fill="#f0d0d8" /><circle cx="118.5" cy="464.4" r="1.7" fill="#6a4030"/><rect x="121.9" y="475.1" width="3.2" height="5.9" fill="#2a2a3a" /><rect x="121.5" y="469.9" width="4.0" height="5.9" fill="#8a1a2a" /><circle cx="123.5" cy="468.4" r="1.7" fill="#6a4030"/><polygon points="135.0,489.8 130.6,487.4 130.6,483.9 135.0,486.3" fill="#222" /><polygon points="135.0,489.8 139.3,487.4 139.3,483.9 135.0,486.3" fill="#333" /><polygon points="135.0,486.3 139.3,483.9 135.0,481.4 130.6,483.9" fill="#f4f4f4" /><rect x="162.4" y="499.1" width="3.2" height="5.9" fill="#2a2a3a" /><rect x="162.0" y="493.9" width="4.0" height="5.9" fill="#2a2a3a" /><circle cx="164.0" cy="492.4" r="1.7" fill="#3a2a20"/><rect x="168.4" y="510.1" width="3.2" height="5.9" fill="#3a3a4a" /><rect x="168.0" y="504.9" width="4.0" height="5.9" fill="#8a2a2a" /><circle cx="170.0" cy="503.4" r="1.7" fill="#6a4030"/><rect x="245.4" y="470.1" width="3.2" height="5.9" fill="#3a5aa0" /><rect x="245.0" y="464.9" width="4.0" height="5.9" fill="#f0f0f0" /><circle cx="247.0" cy="463.4" r="1.7" fill="#a0603a"/><polygon points="231.0,492.8 225.7,489.8 225.7,485.8 231.0,488.8" fill="#8a6a30" /><polygon points="231.0,492.8 237.1,489.4 237.1,485.4 231.0,488.8" fill="#9a7a40" /><polygon points="231.0,488.8 237.1,485.4 231.8,482.4 225.7,485.8" fill="#d8b070" /><rect x="269.4" y="452.1" width="3.2" height="5.9" fill="#3a5a9a" /><rect x="269.0" y="446.9" width="4.0" height="5.9" fill="#f4f4f4" /><circle cx="271.0" cy="445.4" r="1.7" fill="#5a3a20"/><polygon points="285.1,462.0 279.0,458.5 279.0,452.5 285.1,456.0" fill="#dedede" /><polygon points="285.1,462.0 293.8,457.0 293.8,451.0 285.1,456.0" fill="#e8e8e8" /><polygon points="285.1,456.0 293.8,451.0 287.7,447.5 279.0,452.5" fill="#f4f4f4" /><polygon points="717.8,447.5 787.0,483.0 858.0,446.0 858.0,450.5 787.0,487.5 717.8,452.0" fill="#c4c4c6" /><polygon points="717.8,450.5 787.0,486.0 858.0,449.0 858.0,450.5 787.0,487.5 717.8,452.0" fill="#b2b2b4" /><polygon points="717.8,447.5 787.0,483.0 858.0,446.0 789.0,406.0" fill="#e2e2e3" /><polygon points="718.3,428.8 738.3,418.8 738.3,425.8 718.3,435.8" fill="#88888b" /><polygon points="718.3,428.8 738.3,418.8 739.3,419.2 719.3,429.2" fill="#c9c9cb" /><polygon points="738.3,417.8 758.3,427.8 758.3,442.8 738.3,432.8" fill="#909093" /><polygon points="738.3,417.8 758.3,427.8 759.3,427.2 739.3,417.2" fill="#d0d0d2" /><polygon points="723.8,426.2 731.8,422.2 731.8,431.2 723.8,435.2" fill="#d6ebf4" /><polygon points="719.3,435.8 737.8,426.8 747.3,431.8 728.8,440.8" fill="#d9d9db" /><polygon points="720.3,437.2 727.8,440.9 727.8,449.2 720.3,445.6" fill="#858588" /><polygon points="739.3,437.8 745.3,434.8 746.3,445.8 740.3,448.8" fill="#6d6d70" /><polygon points="733.8,434.8 741.3,433.8 742.3,442.8 734.3,443.8" fill="#f4f4f4" /><polygon points="729.3,441.8 736.3,440.8 737.3,444.8 730.3,447.8" fill="#4a4f5a" /><ellipse cx="738.8" cy="431.8" rx="2.2" ry="2.4" fill="#333"/><polygon points="739.3,449.8 745.3,448.8 744.3,451.8 738.3,451.8" fill="#7a7a7d" /><polygon points="742.7,440.2 762.7,430.2 762.7,437.2 742.7,447.2" fill="#88888b" /><polygon points="742.7,440.2 762.7,430.2 763.7,430.7 743.7,440.7" fill="#c9c9cb" /><polygon points="762.7,429.2 782.7,439.2 782.7,454.2 762.7,444.2" fill="#909093" /><polygon points="762.7,429.2 782.7,439.2 783.7,438.7 763.7,428.7" fill="#d0d0d2" /><polygon points="748.2,437.7 756.2,433.7 756.2,442.7 748.2,446.7" fill="#d6ebf4" /><polygon points="743.7,447.2 762.2,438.2 771.7,443.2 753.2,452.2" fill="#d9d9db" /><polygon points="744.7,448.7 752.2,452.4 752.2,460.7 744.7,457.0" fill="#858588" /><polygon points="763.7,449.2 769.7,446.2 770.7,457.2 764.7,460.2" fill="#6d6d70" /><polygon points="758.2,446.2 765.7,445.2 766.7,454.2 758.7,455.2" fill="#222" /><polygon points="753.7,453.2 760.7,452.2 761.7,456.2 754.7,459.2" fill="#4a4f5a" /><ellipse cx="763.2" cy="443.2" rx="2.2" ry="2.4" fill="#2a2a2a"/><polygon points="763.7,461.2 769.7,460.2 768.7,463.2 762.7,463.2" fill="#7a7a7d" /><polygon points="769.1,453.2 789.1,443.2 789.1,450.2 769.1,460.2" fill="#88888b" /><polygon points="769.1,453.2 789.1,443.2 790.1,443.7 770.1,453.7" fill="#c9c9cb" /><polygon points="789.1,442.2 809.1,452.2 809.1,467.2 789.1,457.2" fill="#909093" /><polygon points="789.1,442.2 809.1,452.2 810.1,451.7 790.1,441.7" fill="#d0d0d2" /><polygon points="774.6,450.7 782.6,446.7 782.6,455.7 774.6,459.7" fill="#d6ebf4" /><polygon points="770.1,460.2 788.6,451.2 798.1,456.2 779.6,465.2" fill="#d9d9db" /><polygon points="771.1,461.7 778.6,465.4 778.6,473.7 771.1,470.0" fill="#858588" /><polygon points="790.1,462.2 796.1,459.2 797.1,470.2 791.1,473.2" fill="#6d6d70" /><polygon points="784.6,459.2 792.1,458.2 793.1,467.2 785.1,468.2" fill="#3a4a6a" /><polygon points="780.1,466.2 787.1,465.2 788.1,469.2 781.1,472.2" fill="#4a4f5a" /><ellipse cx="789.6" cy="456.2" rx="2.2" ry="2.4" fill="#1a1a1a"/><polygon points="790.1,474.2 796.1,473.2 795.1,476.2 789.1,476.2" fill="#7a7a7d" /><ellipse cx="808" cy="461" rx="4" ry="4" fill="#4a9a4a"/><rect x="805.0" y="463.0" width="6.0" height="4.0" fill="#2a6a7a" /><polygon points="801.0,411.0 806.0,408.5 806.0,429.0 801.0,431.5" fill="#a0a0a3" /><polygon points="806.0,408.5 813.0,412.0 813.0,432.0 806.0,429.0" fill="#858588" /><polygon points="801.0,411.0 806.0,408.5 813.0,412.0 808.0,414.5" fill="#5ab5c8" /><ellipse cx="785.5" cy="404.5" rx="2.3" ry="2.5" fill="#3a2a20"/><polygon points="782.5,407.0 788.5,407.0 789.0,418.0 782.0,418.0" fill="#f2f2f2" /><rect x="783.0" y="418.0" width="2.0" height="10.0" fill="#222" /><rect x="786.0" y="418.0" width="2.0" height="10.0" fill="#222" /><ellipse cx="797.5" cy="406" rx="2.3" ry="2.5" fill="#2a2a2a"/><polygon points="794.5,408.5 800.5,408.5 801.0,420.0 794.0,420.0" fill="#38383c" /><rect x="795.0" y="420.0" width="2.0" height="11.0" fill="#222" /><rect x="798.0" y="420.0" width="2.0" height="11.0" fill="#222" /><ellipse cx="813.5" cy="421" rx="3.5" ry="4" fill="#4a9a4a"/><rect x="811.5" y="423.5" width="4.0" height="4.0" fill="#2a6a7a" /><rect x="818.0" y="410.0" width="5.0" height="11.0" fill="#9ad0ee" /><rect x="818.5" y="421.0" width="4.0" height="6.0" fill="#e8e8ea" /><ellipse cx="818" cy="416" rx="2.2" ry="2.4" fill="#222"/><polygon points="815.5,418.5 820.5,418.5 821.0,430.0 815.0,430.0" fill="#262629" /><rect x="815.5" y="430.0" width="2.0" height="9.0" fill="#222" /><rect x="818.5" y="430.0" width="2.0" height="9.0" fill="#222" /><ellipse cx="820" cy="432" rx="2.2" ry="2.4" fill="#c8a060"/><polygon points="817.5,434.5 822.5,434.5 823.0,441.0 817.0,441.0" fill="#d9bd80" /><polygon points="817.0,441.0 823.0,441.0 823.5,447.0 816.5,447.0" fill="#2a2a2e" /><rect x="818.0" y="447.0" width="1.5" height="7.0" fill="#e0c8a0" /><rect x="821.0" y="447.0" width="1.5" height="7.0" fill="#e0c8a0" /><polygon points="823.5,421.0 830.5,418.0 830.5,426.0 823.5,429.0" fill="#1f1f22" /><polygon points="832.0,425.0 841.0,421.0 852.0,427.0 852.0,446.0 841.0,451.0 832.0,446.0" fill="#9d9da0" /><polygon points="832.0,425.0 841.0,421.0 852.0,427.0 843.0,431.0" fill="#d4d4d6" /><polygon points="843.0,431.0 852.0,427.0 852.0,446.0 843.0,450.0" fill="#87878a" /><polygon points="846.0,454.0 858.0,448.0 861.0,450.0 849.0,456.0" fill="#d0d0d2" /><polygon points="849.0,458.0 861.0,452.0 864.0,454.0 852.0,460.0" fill="#d0d0d2" /><polygon points="852.0,462.0 864.0,456.0 867.0,458.0 855.0,464.0" fill="#d0d0d2" /><polygon points="855.0,466.0 867.0,460.0 870.0,462.0 858.0,468.0" fill="#d0d0d2" /><polygon points="858.0,470.0 870.0,464.0 873.0,466.0 861.0,472.0" fill="#d0d0d2" /><polygon points="805.0,505.6 863.3,535.0 920.6,504.4 920.6,507.5 863.3,538.5 805.0,508.8" fill="#a9a9ab" /><polygon points="805.0,505.6 863.3,535.0 920.6,504.4 862.3,475.0" fill="#d9d9db" /><polygon points="818.0,493.0 836.0,484.0 858.0,496.0 840.0,505.0" fill="#f1f1f1" /><polygon points="818.0,493.0 840.0,505.0 840.0,516.0 818.0,504.0" fill="#59595c" /><polygon points="840.0,505.0 864.0,493.0 864.0,500.0 840.0,516.0" fill="#7a7a7d" /><polygon points="836.0,484.0 848.0,478.0 864.0,487.0 864.0,493.0 858.0,496.0" fill="#ececec" /><polygon points="844.0,483.0 853.0,478.0 860.0,482.0 851.0,487.0" fill="#4d4d50" /><rect x="826.0" y="485.0" width="7.0" height="8.0" fill="#3a4a5a" /><ellipse cx="830" cy="481" rx="2.4" ry="2.6" fill="#7a3a2a"/><polygon points="832.0,466.0 845.0,460.0 845.0,471.0 832.0,477.0" fill="#3a3a3e" /><polygon points="833.0,467.0 844.0,461.5 844.0,470.0 833.0,475.5" fill="#5ab7d8" /><circle cx="821.5" cy="476.5" r="3.2" fill="#e8f0f6" stroke="#3a86c0" stroke-width="1"/><ellipse cx="815.5" cy="492" rx="3.5" ry="5" fill="#4a9a4a"/><rect x="813.5" y="496.0" width="4.0" height="6.0" fill="#f0f0f0" /><ellipse cx="841.5" cy="487.5" rx="2.3" ry="2.5" fill="#4a2a20"/><polygon points="838.5,490.0 844.5,490.0 845.0,503.0 838.0,503.0" fill="#2a9aa6" /><rect x="839.5" y="503.0" width="1.5" height="8.0" fill="#e8c8a8" /><rect x="842.5" y="503.0" width="1.5" height="8.0" fill="#e8c8a8" /><ellipse cx="866" cy="487" rx="2.3" ry="2.5" fill="#4a3020"/><rect x="862.5" y="490.0" width="7.0" height="12.0" fill="#f5f5f5" /><rect x="862.5" y="502.0" width="7.0" height="13.0" fill="#2a2a2c" /><ellipse cx="879" cy="488" rx="2.3" ry="2.5" fill="#3a2a20"/><rect x="875.5" y="491.0" width="7.5" height="13.0" fill="#3b3b3e" /><rect x="876.0" y="504.0" width="7.0" height="14.0" fill="#2f2f32" /><polygon points="884.0,492.0 896.0,486.0 906.0,491.0 906.0,499.0 894.0,505.0 884.0,500.0" fill="#63c2da" /><polygon points="884.0,492.0 896.0,486.0 906.0,491.0 894.0,497.0" fill="#8ed3e6" /><polygon points="890.0,486.0 897.0,482.5 897.0,489.0 890.0,492.5" fill="#4fb2cf" /><polygon points="904.0,499.0 914.0,494.0 920.0,497.0 920.0,505.0 910.0,510.0 904.0,507.0" fill="#63c2da" /><polygon points="904.0,499.0 914.0,494.0 920.0,497.0 910.0,502.0" fill="#8ed3e6" /><polygon points="912.0,492.0 919.0,488.5 919.0,496.0 912.0,499.5" fill="#4fb2cf" /><ellipse cx="899.5" cy="481" rx="2.4" ry="2.8" fill="#2a1a15"/><polygon points="897.0,484.0 903.0,484.0 903.5,494.0 896.5,494.0" fill="#f4f4f4" /><ellipse cx="905.5" cy="482" rx="2.3" ry="2.6" fill="#b07a5a"/><polygon points="903.0,485.0 909.0,485.0 909.5,495.0 903.0,495.0" fill="#f0f0f0" /><polygon points="893.0,494.0 909.0,494.0 907.0,502.0 902.0,499.0 897.0,504.0 893.0,502.0" fill="#2c2c30" /><ellipse cx="886" cy="473" rx="2.5" ry="4" fill="#4a9a4a"/><rect x="884.5" y="476.0" width="3.0" height="5.0" fill="#f0f0f0" />
<text transform="translate(470.40,47.00) scale(0.9745,1)" font-size="32.86" font-weight="bold" fill="#000" filter="url(#shadow)">Federal</text><text transform="translate(593.66,47.00) scale(0.9922,1)" font-size="32.86" font-weight="bold" fill="#000" filter="url(#shadow)">IoT</text><text transform="translate(650.81,47.00) scale(0.9212,1)" font-size="32.86" font-weight="bold" fill="#000" filter="url(#shadow)">Ecosystem</text><text transform="translate(491.93,160.60) scale(0.9894,1)" font-size="18.57" font-weight="normal" fill="#2d5a8d">Secure</text><text transform="translate(554.65,160.60) scale(1.1016,1)" font-size="18.57" font-weight="normal" fill="#2d5a8d">Network</text><text transform="translate(636.25,160.60) scale(1.1435,1)" font-size="18.57" font-weight="normal" fill="#2d5a8d">to</text><text transform="translate(657.84,160.60) scale(1.0422,1)" font-size="18.57" font-weight="normal" fill="#2d5a8d">Connect</text><text transform="translate(734.99,160.60) scale(1.0524,1)" font-size="18.57" font-weight="normal" fill="#2d5a8d">and</text><text transform="translate(488.16,185.60) scale(1.0161,1)" font-size="18.57" font-weight="normal" fill="#2d5a8d">Segment</text><text transform="translate(569.05,185.60) scale(1.0652,1)" font-size="18.57" font-weight="normal" fill="#2d5a8d">Mission</text><text transform="translate(640.97,185.60) scale(1.0631,1)" font-size="18.57" font-weight="normal" fill="#2d5a8d">Critical</text><text transform="translate(705.45,185.60) scale(1.0012,1)" font-size="18.57" font-weight="normal" fill="#2d5a8d">Devices</text><text transform="translate(79.12,566.70) scale(0.9220,1)" font-size="22.14" font-weight="bold" fill="#c4502f">Barracks</text><text transform="translate(172.56,566.70) scale(0.9813,1)" font-size="22.14" font-weight="bold" fill="#c4502f">and</text><text transform="translate(215.68,566.70) scale(0.9527,1)" font-size="22.14" font-weight="bold" fill="#c4502f">Housing</text><text transform="translate(134.00,590.60) scale(0.9682,1)" font-size="16.57" font-weight="bold" fill="#000">Commercial</text><text transform="translate(229.79,590.60) scale(0.9752,1)" font-size="16.57" font-weight="bold" fill="#000">IoT</text><text transform="translate(134.01,612.90) scale(0.9409,1)" font-size="16.57" font-weight="bold" fill="#000">Consumer</text><text transform="translate(215.79,612.90) scale(0.9752,1)" font-size="16.57" font-weight="bold" fill="#000">IoT</text><text transform="translate(133.48,635.60) scale(0.9822,1)" font-size="16.57" font-weight="bold" fill="#000">Infrastructure</text><text transform="translate(243.79,635.60) scale(0.9752,1)" font-size="16.57" font-weight="bold" fill="#000">IoT</text><text transform="translate(374.25,569.80) scale(0.9048,1)" font-size="22.14" font-weight="bold" fill="#c4502f">Exchange</text><text transform="translate(475.76,569.80) scale(0.9893,1)" font-size="22.14" font-weight="bold" fill="#c4502f">and</text><text transform="translate(520.35,569.80) scale(0.9337,1)" font-size="22.14" font-weight="bold" fill="#c4502f">Commissary</text><text transform="translate(449.70,594.00) scale(0.9639,1)" font-size="16.57" font-weight="bold" fill="#000">Commercial</text><text transform="translate(545.09,594.00) scale(0.9752,1)" font-size="16.57" font-weight="bold" fill="#000">IoT</text><text transform="translate(449.17,615.50) scale(0.9977,1)" font-size="16.57" font-weight="bold" fill="#000">Industrial</text><text transform="translate(527.49,615.50) scale(0.9752,1)" font-size="16.57" font-weight="bold" fill="#000">IoT</text><text transform="translate(449.17,638.80) scale(0.9897,1)" font-size="16.57" font-weight="bold" fill="#000">Infrastructure</text><text transform="translate(560.29,638.80) scale(0.9752,1)" font-size="16.57" font-weight="bold" fill="#000">IoT</text><text transform="translate(724.80,569.50) scale(0.9373,1)" font-size="22.14" font-weight="bold" fill="#c4502f">Buildings</text><text transform="translate(824.96,569.50) scale(1.0755,1)" font-size="22.14" font-weight="bold" fill="#c4502f">&amp;</text><text transform="translate(848.24,569.50) scale(0.9595,1)" font-size="22.14" font-weight="bold" fill="#c4502f">Offices</text><text transform="translate(780.80,593.80) scale(0.9671,1)" font-size="16.57" font-weight="bold" fill="#000">Commercial</text><text transform="translate(876.49,593.80) scale(0.9752,1)" font-size="16.57" font-weight="bold" fill="#000">IoT</text><text transform="translate(780.28,616.80) scale(0.9841,1)" font-size="16.57" font-weight="bold" fill="#000">Infrastructure</text><text transform="translate(890.79,616.80) scale(0.9752,1)" font-size="16.57" font-weight="bold" fill="#000">IoT</text><text transform="translate(1025.09,568.50) scale(1.0213,1)" font-size="22.14" font-weight="bold" fill="#c4502f">Medical</text><text transform="translate(1112.61,568.50) scale(0.9299,1)" font-size="22.14" font-weight="bold" fill="#c4502f">Facilities</text><text transform="translate(1077.80,592.70) scale(0.9693,1)" font-size="16.57" font-weight="bold" fill="#000">Commercial</text><text transform="translate(1173.69,592.70) scale(0.9752,1)" font-size="16.57" font-weight="bold" fill="#000">IoT</text><text transform="translate(1077.81,615.20) scale(0.9409,1)" font-size="16.57" font-weight="bold" fill="#000">Consumer</text><text transform="translate(1159.59,615.20) scale(0.9752,1)" font-size="16.57" font-weight="bold" fill="#000">IoT</text><text transform="translate(1077.27,637.50) scale(0.9977,1)" font-size="16.57" font-weight="bold" fill="#000">Industrial</text><text transform="translate(1155.59,637.50) scale(0.9752,1)" font-size="16.57" font-weight="bold" fill="#000">IoT</text><text transform="translate(1077.28,659.60) scale(0.9869,1)" font-size="16.57" font-weight="bold" fill="#000">Infrastructure</text><text transform="translate(1188.09,659.60) scale(0.9752,1)" font-size="16.57" font-weight="bold" fill="#000">IoT</text>
<circle cx="107.1" cy="584.4" r="2.5" fill="#000"/><circle cx="107.1" cy="606.7" r="2.5" fill="#000"/><circle cx="107.1" cy="629.4" r="2.5" fill="#000"/><circle cx="422.8" cy="587.8" r="2.5" fill="#000"/><circle cx="422.8" cy="609.3" r="2.5" fill="#000"/><circle cx="422.8" cy="632.6" r="2.5" fill="#000"/><circle cx="753.4" cy="587.6" r="2.5" fill="#000"/><circle cx="753.4" cy="610.6" r="2.5" fill="#000"/><circle cx="1051.2" cy="586.5" r="2.5" fill="#000"/><circle cx="1051.2" cy="609.0" r="2.5" fill="#000"/><circle cx="1051.2" cy="631.3" r="2.5" fill="#000"/><circle cx="1051.2" cy="653.4" r="2.5" fill="#000"/>
</svg>
</body></html>
